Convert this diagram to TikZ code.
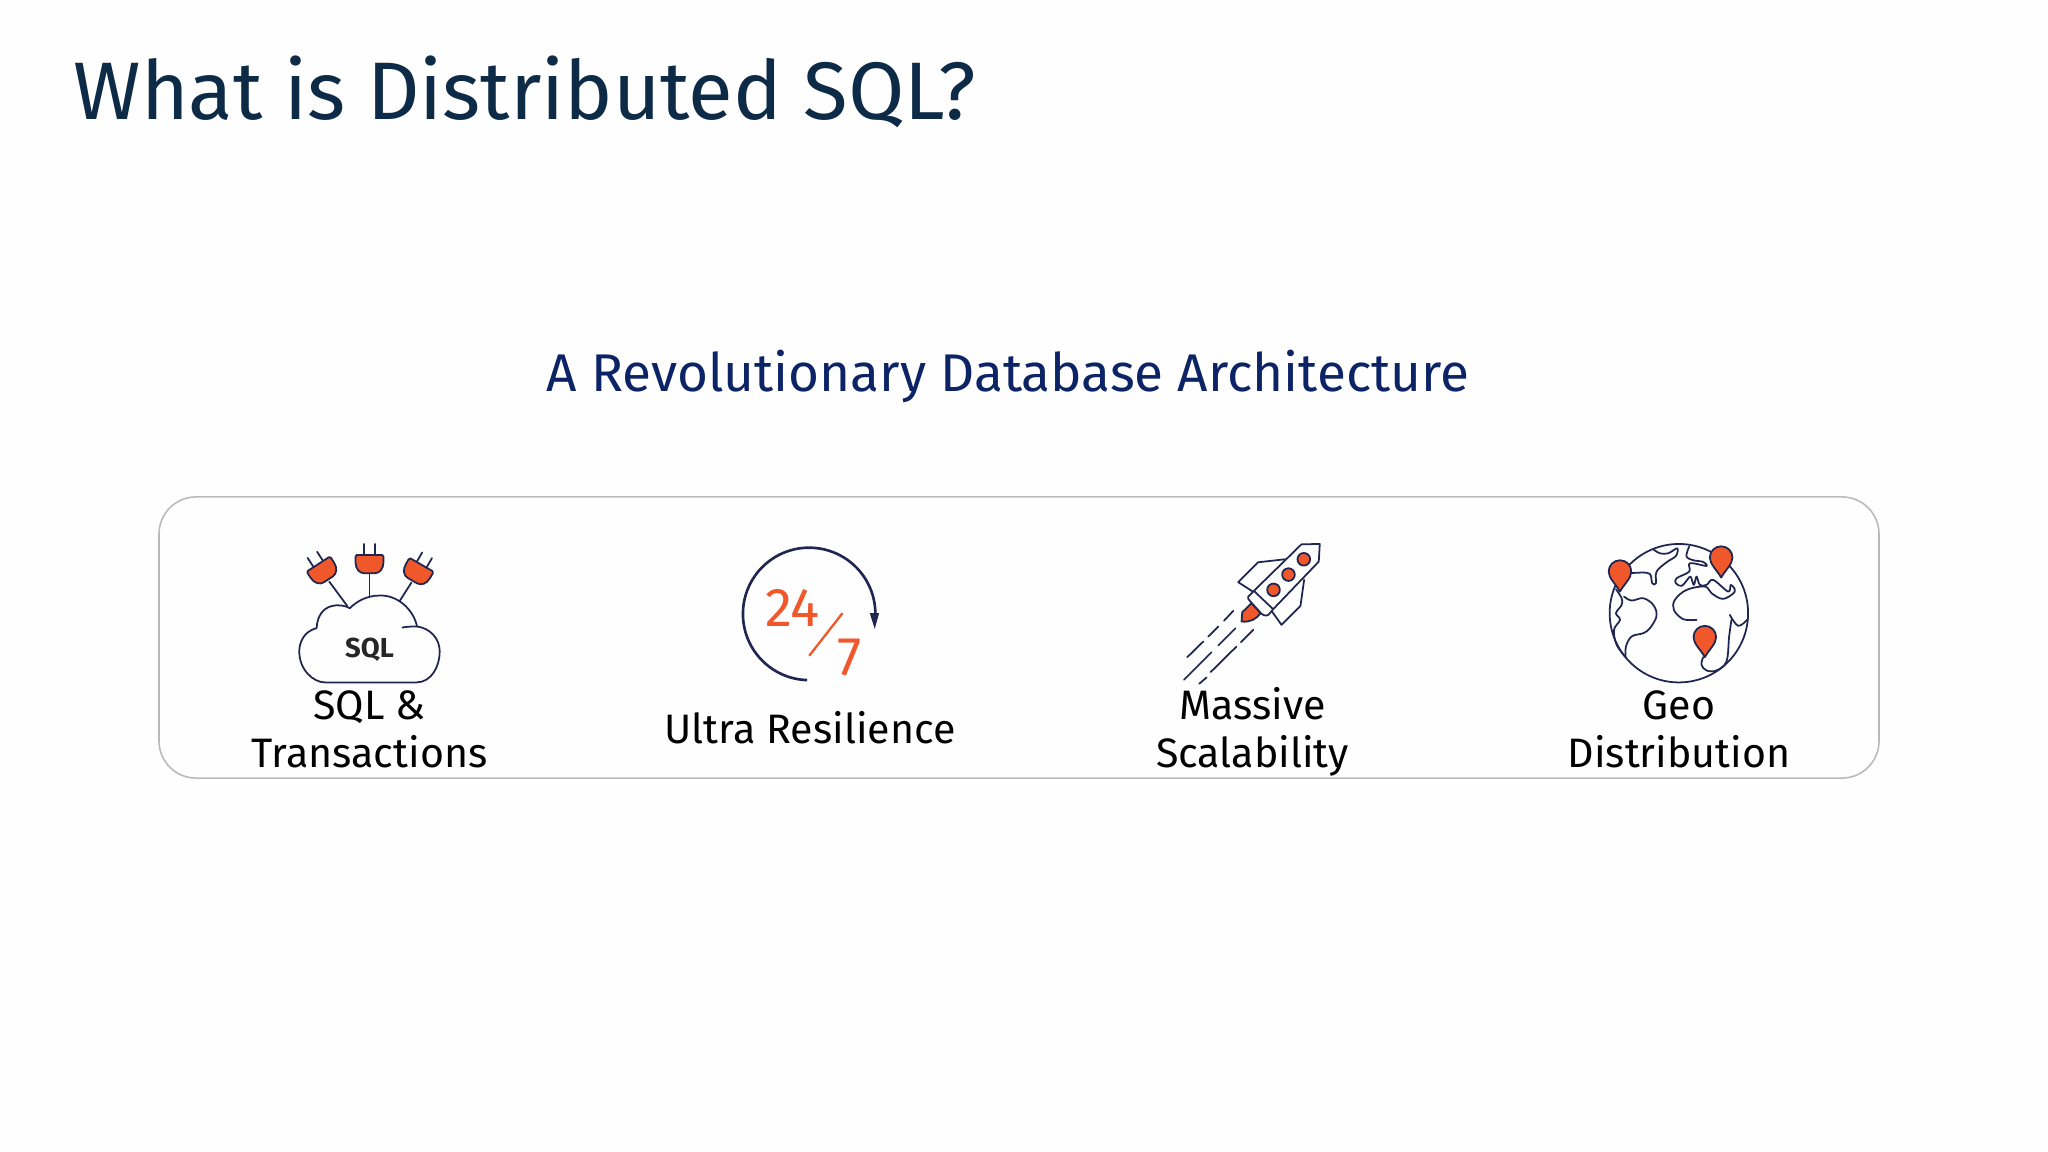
\documentclass[tikz,border=0pt]{standalone}
\usepackage{fontspec}
\setmainfont{Fira Sans}
\definecolor{titleblue}{HTML}{0D2A47}
\definecolor{subblue}{HTML}{0C2366}
\definecolor{inkblue}{HTML}{20264F}
\definecolor{flame}{HTML}{F0582B}
\definecolor{paper}{HTML}{FEFEFE}
\tikzstyle{panel}=[draw=black!27, line width=0.45pt, rounded corners=0.37cm, minimum width=17.19cm, minimum height=2.81cm, inner sep=0pt]
\tikzstyle{caption}=[font=\fontsize{11.7}{13}\selectfont, text=black, inner sep=0pt, anchor=base]
\tikzstyle{ink}=[draw=inkblue, line width=0.5pt, line join=round, line cap=round]
\tikzstyle{blob}=[ink, fill=flame]
\tikzset{
  plug/.pic={
    \draw[ink] (-17,-27) -- (-17,-60) (17,-27) -- (17,-60);
    \draw[blob] (-38,-27) -- (38,-27) .. controls (41,-27) and (42,-26) .. (42,-22) -- (42,-5) .. controls (42,15) and (30,28) .. (16,28) -- (-16,28) .. controls (-30,28) and (-42,15) .. (-42,-5) -- (-42,-22) .. controls (-42,-26) and (-41,-27) .. (-38,-27) -- cycle;
  },
  pin/.pic={
    \draw[blob] (0,60) .. controls (-12,38) and (-34,20) .. (-34,0) .. controls (-34,-19) and (-19,-34) .. (0,-34) .. controls (19,-34) and (34,-19) .. (34,0) .. controls (34,20) and (12,38) .. (0,60) -- cycle;
  }
}
\begin{document}
\begin{tikzpicture}[x=0.01cm, y=-0.01cm]
    \useasboundingbox[fill=paper] (0,0) rectangle (2048,1152);
    \node[anchor=base west, inner sep=0pt, text=titleblue, font=\fontsize{23.2}{28}\selectfont] (title) at (73,120) {What is Distributed SQL?};
    \node[anchor=base, inner sep=0pt, text=subblue, font=\fontsize{15.1}{18}\selectfont] (subtitle) at (1008,392) {A Revolutionary Database Architecture};
    \node[panel] (box) at (1019,637.5) {};
    \node[caption] (sqllabel) at (369.6,719.6) {SQL \&};
    \node[caption] (txnlabel) at (369.6,767.4) {Transactions};
    \node[caption] (resilience) at (810,743) {Ultra Resilience};
    \node[caption] (massive) at (1252.5,719.6) {Massive};
    \node[caption] (scalelabel) at (1252.5,767.4) {Scalability};
    \node[caption] (geolabel) at (1679,719.6) {Geo};
    \node[caption] (distlabel) at (1679,767.4) {Distribution};
    \begin{scope}[shift={(260,520)}, x=0.00333cm, y=-0.00333cm]
        \draw[ink] (270,265) .. controls (245,250) and (175,245) .. (170,325) .. controls (130,335) and (118,370) .. (118,395) .. controls (118,450) and (160,488) .. (195,488) -- (470,488) .. controls (515,488) and (540,440) .. (540,395) .. controls (540,355) and (510,325) .. (472,320) .. controls (460,265) and (410,225) .. (360,227) .. controls (320,227) and (290,245) .. (270,265) -- cycle;
        \draw[ink] (428,323) .. controls (445,320) and (460,320) .. (472,320);
        \draw[ink] (208,185) -- (262,258);
        \draw[ink] (329,160) -- (329,232);
        \draw[ink] (455,188) -- (420,243);
        \pic[rotate=33] at (190,155) {plug};
        \pic at (329,132) {plug};
        \pic[rotate=-30] at (472,158) {plug};
        \node[font=\fontsize{7.8}{9}\bfseries\selectfont, text=black!85, inner sep=0pt] (sqltext) at (329,389) {SQL};
    \end{scope}
    \begin{scope}[shift={(720,530)}, x=0.00333cm, y=-0.00333cm]
        \draw[inkblue, line width=0.75pt] (262,451) arc[start angle=91.7, end angle=362, radius=199];
        \fill[inkblue] (450,250) -- (478,250) -- (465,297) -- cycle;
        \node[text=flame, font=\fontsize{15.5}{16}\selectfont, inner sep=0pt] (hours) at (218,233) {24};
        \node[text=flame, font=\fontsize{15.5}{16}\selectfont, inner sep=0pt] (days) at (390,383) {7};
        \draw[flame, line width=0.65pt] (368,250) -- (268,378);
    \end{scope}
    \begin{scope}[shift={(1170,530)}, x=0.00333cm, y=-0.00333cm]
        \draw[ink] (345,88) -- (265,97) -- (205,157) -- (252,187);
        \draw[ink] (403,150) -- (392,228) -- (335,285) -- (303,240);
        \draw[blob] (245,220) -- (217,247) -- (215,275) .. controls (240,278) and (260,268) .. (272,250) -- cycle;
        \draw[ink, fill=white] (252,183) -- (235,200) .. controls (233,205) and (236,210) .. (240,213) -- (275,252) .. controls (285,260) and (295,258) .. (300,250) -- (310,238) -- cycle;
        \draw[ink] (252,183) -- (395,43) -- (450,42) -- (447,95) -- (310,238);
        \draw[blob] (402,88) circle[radius=19];
        \draw[blob] (356,134) circle[radius=19];
        \draw[blob] (311,180) circle[radius=19];
        \draw[ink] (52,382) -- (100,335) (115,320) -- (145,290) (162,273) -- (190,243);
        \draw[ink] (42,450) -- (125,367) (145,347) -- (197,295);
        \draw[ink] (88,462) -- (110,443) (122,427) -- (200,350) (213,337) -- (250,300);
    \end{scope}
    \begin{scope}[shift={(1600,530)}, x=0.00333cm, y=-0.00333cm]
        \draw[ink] (237,250) circle[radius=208];
        \draw[ink] plot[smooth, tension=0.6] coordinates {(90,130) (125,128) (150,132) (157,160) (168,160) (170,125) (200,97) (228,78) (232,55) (205,70) (180,70) (160,58)};
        \draw[ink] plot[smooth, tension=0.6] coordinates {(72,200) (95,212) (130,205) (160,225) (170,258) (150,295) (130,310) (95,320) (78,350) (77,382)};
        \draw[ink] plot[smooth, tension=0.6] coordinates {(48,178) (65,205) (65,225) (48,250) (60,270) (42,300) (50,345) (77,382)};
        \draw[ink] plot[smooth, tension=0.6] coordinates {(268,50) (260,80) (285,92) (308,95) (320,108) (270,100) (268,125) (230,145) (228,160) (245,168) (262,150) (272,140) (282,165) (290,140) (300,165) (320,165) (340,150) (385,185) (393,165) (405,185) (370,207) (335,190) (315,170) (260,180) (225,210) (222,240) (250,268) (290,270)};
        \draw[ink] plot[smooth, tension=0.6] coordinates {(310,382) (305,405) (320,422) (350,422) (380,395) (388,320) (395,270)};
        \draw[ink] plot[smooth, tension=0.6] coordinates {(390,255) (415,288) (442,270)};
        \pic at (60,125) {pin};
        \pic at (364,83) {pin};
        \pic at (315,322) {pin};
    \end{scope}
\end{tikzpicture}
\end{document}
